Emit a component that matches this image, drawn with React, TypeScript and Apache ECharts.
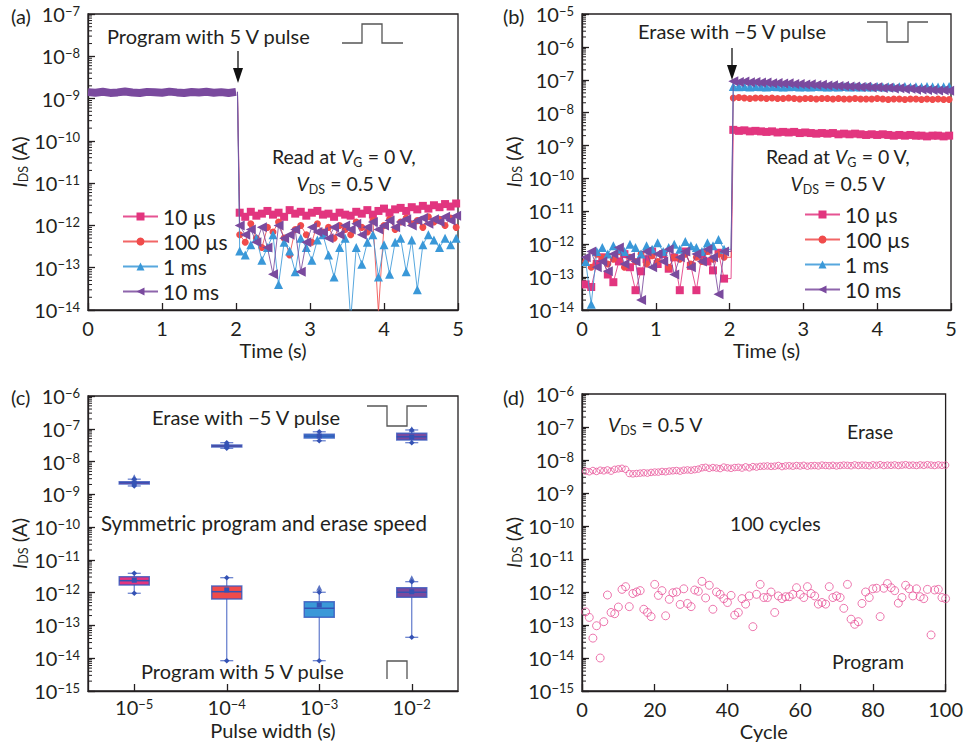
import React, { useEffect, useRef } from 'react';
import * as echarts from 'echarts';

const INK = '#231f20';
const FONT = 'Lato, "Noto Sans", sans-serif';
const COLORS = ['#E2357F', '#F04B4B', '#3A98D8', '#7A4A9E'];
const SYMBOLS = ['rect', 'circle', 'triangle', 'triangle'];
const SYM_SIZE = [8, 7, 9, 10];
const SYM_ROT = [0, 0, 0, 90];
const seriesNames = ['10 µs', '100 µs', '1 ms', '10 ms'];

// ---------- panel (a) ----------
const preTimesA = [0, 0.1, 0.2, 0.3, 0.4, 0.5, 0.6, 0.7, 0.8, 0.9, 1.0, 1.1, 1.2, 1.3, 1.4, 1.5, 1.6, 1.7, 1.8, 1.9, 2.0];
const preBandA = [1.42, 1.38, 1.45, 1.36, 1.40, 1.47, 1.39, 1.35, 1.44, 1.41, 1.37, 1.46, 1.40, 1.36, 1.43, 1.39, 1.45, 1.38, 1.42, 1.36, 1.44]; // x1e-9
const dropTime = 2.02;
const postTimes = [2.05, 2.125, 2.2, 2.275, 2.35, 2.425, 2.5, 2.575, 2.65, 2.725, 2.8, 2.875, 2.95, 3.025, 3.1, 3.175, 3.25, 3.325, 3.4, 3.475, 3.55, 3.625, 3.7, 3.775, 3.85, 3.925, 4.0, 4.075, 4.15, 4.225, 4.3, 4.375, 4.45, 4.525, 4.6, 4.675, 4.75, 4.825, 4.9, 4.975];
const postA_10us = [2.0, 1.6, 2.1, 1.7, 1.9, 2.2, 1.8, 2.0, 1.6, 2.3, 1.9, 2.1, 1.7, 2.0, 2.2, 1.8, 1.9, 1.6, 2.0, 1.8, 1.7, 2.1, 1.9, 2.3, 1.8, 2.2, 2.5, 2.0, 2.4, 2.6, 2.2, 2.7, 2.4, 2.9, 2.5, 3.0, 2.7, 3.2, 2.8, 3.3]; // x1e-12
const postA_100us = [0.6, 0.4, 1.1, 0.5, 0.3, 0.9, 0.7, 1.2, 0.5, 0.2, 0.8, 1.0, 0.6, 0.4, 1.1, 0.7, 0.9, 0.5, 1.0, 0.8, 0.6, 1.2, 0.9, 0.7, 1.3, 0.009, 1.0, 1.4, 0.8, 1.2, 1.5, 1.1, 1.3, 0.9, 1.6, 1.2, 1.4, 1.0, 1.5, 0.9];
const postA_1ms = [0.25, 0.2, 0.35, 0.5, 0.15, 0.3, 0.6, 0.04, 0.4, 0.25, 0.08, 0.5, 0.3, 0.15, 0.45, 0.6, 0.2, 0.06, 0.3, 0.5, 0.006, 0.3, 0.12, 0.4, 0.6, 0.06, 0.35, 0.07, 0.4, 0.5, 0.08, 0.45, 0.03, 0.35, 0.6, 0.45, 0.3, 0.5, 0.35, 0.5];
const postA_10ms = [1.0, 0.6, 0.8, 0.4, 0.9, 0.3, 0.07, 1.0, 0.5, 0.6, 0.8, 0.08, 0.4, 0.9, 0.7, 0.7, 0.5, 0.9, 0.6, 1.0, 0.8, 1.1, 0.6, 0.9, 1.2, 0.8, 1.0, 1.3, 0.9, 1.2, 1.4, 1.0, 1.3, 1.5, 1.1, 1.4, 1.2, 1.6, 1.3, 1.7];

// ---------- panel (b) ----------
const preTimesB = [0.05, 0.125, 0.2, 0.275, 0.35, 0.425, 0.5, 0.575, 0.65, 0.725, 0.8, 0.875, 0.95, 1.025, 1.1, 1.175, 1.25, 1.325, 1.4, 1.475, 1.55, 1.625, 1.7, 1.775, 1.85, 1.925];
const preB_10us = [0.6, 0.5, 2.5, 4, 1.2, 0.7, 3, 5, 2, 0.4, 1.5, 3.5, 6, 2.5, 5, 1.8, 4, 0.4, 6, 2.2, 0.4, 5, 3, 1.6, 5.5, 0.9]; // x1e-13
const preB_100us = [3, 2, 5, 4, 2.5, 3.5, 6, 2, 4, 3, 5, 2.5, 4.5, 3, 5.5, 2, 4, 3.5, 5, 2.5, 4, 3, 6, 3.5, 5, 4];
const preB_1ms = [3, 0.15, 6, 8, 5, 9, 7, 6, 10, 8, 5, 9, 7, 11, 6, 8, 10, 7, 12, 9, 8, 6, 11, 9, 14, 7];
const preB_10ms = [4, 6, 2, 3, 1.5, 5, 8, 2.5, 4, 3, 0.2, 6, 2, 5, 3, 7, 1.2, 4, 6, 2, 5, 3, 7, 4, 0.3, 6];
const postB_10us = [3.0, 2.8, 2.9, 2.7, 2.8, 2.7, 2.6, 2.7, 2.5, 2.6, 2.5, 2.6, 2.4, 2.5, 2.4, 2.3, 2.4, 2.3, 2.4, 2.2, 2.3, 2.2, 2.3, 2.2, 2.1, 2.2, 2.1, 2.2, 2.1, 2.0, 2.1, 2.0, 2.1, 2.0, 2.0, 1.9, 2.0, 2.0, 1.9, 2.0]; // x1e-9
const postB_100us = [2.8, 2.9, 2.8, 2.7, 2.8, 2.8, 2.7, 2.8, 2.7, 2.7, 2.8, 2.7, 2.6, 2.7, 2.7, 2.6, 2.7, 2.7, 2.6, 2.7, 2.6, 2.6, 2.7, 2.6, 2.6, 2.6, 2.7, 2.6, 2.5, 2.6, 2.6, 2.5, 2.6, 2.6, 2.5, 2.6, 2.5, 2.6, 2.5, 2.5]; // x1e-8
const postB_1ms = [6.3, 6.1, 6.2, 6.0, 6.2, 6.1, 6.0, 6.2, 6.1, 6.0, 6.1, 6.2, 6.0, 6.1, 6.0, 6.2, 6.1, 6.0, 6.1, 6.0, 6.2, 6.0, 6.1, 6.0, 6.1, 6.0, 6.2, 6.0, 6.1, 6.0, 6.1, 6.2, 6.0, 6.1, 6.0, 6.2, 6.1, 6.0, 6.1, 6.2]; // x1e-8
const postB_10ms = [9.0, 8.6, 8.8, 8.4, 8.5, 8.2, 8.3, 7.9, 8.0, 7.7, 7.8, 7.4, 7.5, 7.2, 7.3, 6.9, 7.0, 6.7, 6.8, 6.5, 6.5, 6.2, 6.3, 6.0, 6.1, 5.8, 5.9, 5.6, 5.7, 5.4, 5.5, 5.2, 5.3, 5.0, 5.1, 4.9, 4.9, 4.7, 4.8, 4.6]; // x1e-8

// ---------- panel (c) ----------
const pulseCats = ['1e-5', '1e-4', '1e-3', '1e-2'];
const BOX_COLORS = ['#E2357F', '#F04B4B', '#3A98D8', '#7A4A9E'];
const progMin = [9.6e-13, 8.4e-15, 8.4e-15, 4.35e-14];
const progQ1 = [1.71e-12, 6.4e-13, 1.77e-13, 7.2e-13];
const progMed = [2.32e-12, 1.07e-12, 3.34e-13, 1.03e-12];
const progQ3 = [3.07e-12, 1.6e-12, 5.3e-13, 1.42e-12];
const progMax = [3.9e-12, 2.86e-12, 1.03e-12, 2.16e-12];
const progMean = [2.4e-12, 1.21e-12, 4.2e-13, 1.07e-12];
const progOutCat = [2, 3];
const progOutVal = [1.42e-12, 2.75e-12];
const eraseMin = [1.8e-9, 2.54e-8, 4.3e-8, 3.76e-8];
const eraseQ1 = [2.07e-9, 2.78e-8, 5.2e-8, 4.55e-8];
const eraseMed = [2.26e-9, 2.98e-8, 6.0e-8, 5.7e-8];
const eraseQ3 = [2.43e-9, 3.2e-8, 6.8e-8, 7.3e-8];
const eraseMax = [2.9e-9, 3.76e-8, 8.1e-8, 9.2e-8];
const eraseMean = [2.2e-9, 3.0e-8, 6.0e-8, 5.6e-8];
const eraseOutCat = [0, 3];
const eraseOutVal = [3.3e-9, 9.7e-8];

// ---------- panel (d) ----------
const eraseCycle = [4.6, 4.4, 4.8, 4.5, 4.9, 4.7, 5.0, 4.6, 5.2, 5.4, 5.6, 5.2, 3.9, 3.8, 3.9, 4.0, 4.1, 4.0, 4.2, 4.3, 4.3, 4.5, 4.4, 4.6, 4.7, 4.8, 4.6, 4.9, 5.0, 4.9, 5.1, 5.3, 5.8, 6.0, 5.6, 5.9, 5.7, 5.5, 6.1, 5.8, 5.6, 5.9, 6.0, 5.7, 6.2, 5.8, 6.3, 6.1, 6.4, 6.5, 6.6, 6.4, 6.5, 6.8, 6.3, 6.6, 6.7, 6.5, 6.8, 6.6, 6.9, 6.5, 6.7, 6.8, 6.6, 7.0, 6.8, 6.7, 6.9, 6.6, 6.8, 7.0, 6.9, 6.7, 7.1, 6.8, 7.0, 6.9, 6.7, 7.1, 6.9, 7.2, 6.8, 7.0, 6.9, 7.1, 6.8, 7.0, 7.2, 6.9, 7.0, 6.8, 7.1, 6.9, 7.2, 7.0, 6.8, 7.1, 6.9, 7.0]; // x1e-9
const programCycle = [2.5e-13, 1.7e-13, 4e-14, 9.5e-14, 1e-14, 1.26e-13, 8.1e-13, 2.4e-13, 2.2e-13, 3.5e-13, 1.2e-12, 1.45e-12, 3.6e-13, 9e-13, 1e-12, 1.1e-12, 3e-13, 2.4e-13, 1.8e-13, 1.7e-12, 7.9e-13, 1.1e-12, 1.9e-13, 6e-13, 9.5e-13, 1e-12, 4.2e-13, 1.25e-12, 4.5e-13, 3.6e-13, 1.15e-12, 1.05e-12, 2.1e-12, 6.6e-13, 1.6e-12, 3e-13, 1e-12, 8.5e-13, 6.3e-13, 4.8e-13, 7.9e-13, 2e-13, 2.4e-13, 6.3e-13, 4.3e-13, 7.6e-13, 8.9e-14, 8.5e-13, 1.7e-12, 6.8e-13, 6.8e-13, 1e-12, 2.4e-13, 7.6e-13, 6.3e-13, 7.2e-13, 7.2e-13, 8.5e-13, 1.35e-12, 8.5e-13, 6.8e-13, 1.45e-12, 9e-13, 7.6e-13, 4.3e-13, 4.8e-13, 4.3e-13, 1.45e-12, 6.8e-13, 7.6e-13, 6.8e-13, 3.2e-13, 1.7e-12, 1.5e-13, 1.05e-13, 1.26e-13, 4.5e-13, 1e-12, 6.8e-13, 1.25e-12, 1.3e-12, 1.8e-13, 1.3e-12, 1.8e-12, 1.35e-12, 1.1e-12, 4.6e-13, 6.8e-13, 1.6e-12, 1.25e-12, 7.6e-13, 1.25e-12, 7.2e-13, 6.3e-13, 1.2e-12, 5e-14, 1.15e-12, 1.2e-12, 6.8e-13, 6.3e-13];

const MINOR_MANTISSAS = [2, 3, 4, 5, 6, 7, 8, 9];

function minorTicks(loExp: number, hiExp: number) {
  const out: number[][] = [];
  for (let e = loExp; e < hiExp; e++) for (const m of MINOR_MANTISSAS) out.push([0, m * Math.pow(10, e)]);
  return out;
}

const labelRich = {
  b: { fontSize: 20, lineHeight: 20, fontFamily: FONT, color: INK },
  s: { fontSize: 13, lineHeight: 13, fontFamily: FONT, color: INK, verticalAlign: 'top' },
};
const pow10Label = (v: number) => `{b|10}{s|\u2212${Math.abs(Math.round(Math.log10(v)))}}`;

const nameRich = {
  i: { fontStyle: 'italic', fontSize: 20, lineHeight: 23, fontFamily: FONT, color: INK },
  s: { fontSize: 12.5, lineHeight: 12, fontFamily: FONT, color: INK, verticalAlign: 'bottom' },
  n: { fontSize: 20, lineHeight: 23, fontFamily: FONT, color: INK },
};

const axisBase = {
  axisLine: { show: true, lineStyle: { color: INK, width: 1.3 } },
  axisTick: { show: true, inside: true, length: 7, lineStyle: { color: INK, width: 1.3 } },
  splitLine: { show: false },
  nameTextStyle: { fontFamily: FONT, fontSize: 20, lineHeight: 18, color: INK, rich: nameRich },
};

function logY(gi: number, lo: number, hi: number, gap: number) {
  return {
    ...axisBase,
    gridIndex: gi,
    type: 'log',
    logBase: 10,
    min: Math.pow(10, lo),
    max: Math.pow(10, hi),
    splitNumber: hi - lo,
    axisLabel: { formatter: pow10Label, rich: labelRich, margin: 8, color: INK, fontFamily: FONT },
    name: '{i|I}{s|DS}{n| (A)}',
    nameLocation: 'middle',
    nameRotate: 90,
    nameGap: gap,
  };
}

function valX(gi: number, max: number, interval: number, name: string, gap: number) {
  return {
    ...axisBase,
    gridIndex: gi,
    type: 'value',
    min: 0,
    max,
    interval,
    axisLabel: { color: INK, fontFamily: FONT, fontSize: 20, lineHeight: 18, margin: 9 },
    name,
    nameLocation: 'middle',
    nameGap: gap,
  };
}

function lineSeries(k: number, gi: number, data: any[]) {
  return {
    name: seriesNames[k],
    type: 'line',
    xAxisIndex: gi,
    yAxisIndex: gi,
    data,
    symbol: SYMBOLS[k],
    symbolSize: SYM_SIZE[k],
    symbolRotate: SYM_ROT[k],
    itemStyle: { color: COLORS[k] },
    lineStyle: { color: COLORS[k], width: 1, opacity: 0.85 },
    emphasis: { disabled: true },
    z: 3 + k,
  };
}

function minorTickSeries(gi: number, lo: number, hi: number) {
  return {
    type: 'custom',
    xAxisIndex: gi,
    yAxisIndex: gi,
    silent: true,
    data: minorTicks(lo, hi),
    encode: { x: 0, y: 1 },
    renderItem: (params: any, api: any) => {
      const p = api.coord([api.value(0), api.value(1)]);
      const x0 = params.coordSys.x;
      return { type: 'line', shape: { x1: x0, y1: p[1], x2: x0 + 4, y2: p[1] }, style: { stroke: INK, lineWidth: 1 } };
    },
    z: 1,
  };
}

const EDGE = 'rgba(55,88,190,0.8)';
const DARK = '#3452B4';

function boxRender(params: any, api: any) {
  const ci = api.value(0);
  const ys = [1, 2, 3, 4, 5, 6].map((d) => api.coord([ci, api.value(d)])[1]);
  const cx = api.coord([ci, api.value(1)])[0];
  const [yMin, yQ1, yMed, yQ3, yMax, yMean] = ys;
  const fill = BOX_COLORS[api.value(7)];
  const hw = 15;
  const cw = 6.5;
  const d = 2.8;
  const diamond = (y: number) => ({ type: 'polygon', shape: { points: [[cx, y - d], [cx + d, y], [cx, y + d], [cx - d, y]] }, style: { fill: DARK } });
  return {
    type: 'group',
    children: [
      { type: 'line', shape: { x1: cx, y1: yMax, x2: cx, y2: yMin }, style: { stroke: EDGE, lineWidth: 1.2 } },
      { type: 'line', shape: { x1: cx - cw, y1: yMax, x2: cx + cw, y2: yMax }, style: { stroke: EDGE, lineWidth: 1.2 } },
      { type: 'line', shape: { x1: cx - cw, y1: yMin, x2: cx + cw, y2: yMin }, style: { stroke: EDGE, lineWidth: 1.2 } },
      { type: 'rect', shape: { x: cx - hw, y: yQ3, width: hw * 2, height: Math.max(yQ1 - yQ3, 1.5) }, style: { fill, stroke: EDGE, lineWidth: 1.5 } },
      { type: 'line', shape: { x1: cx - hw, y1: yMed, x2: cx + hw, y2: yMed }, style: { stroke: DARK, lineWidth: 1.5 } },
      { type: 'rect', shape: { x: cx - 2.5, y: yMean - 2.5, width: 5, height: 5 }, style: { fill: DARK } },
      diamond(yMax),
      diamond(yMin),
    ],
  };
}

function buildOption() {
  const postA = [postA_10us, postA_100us, postA_1ms, postA_10ms];
  const scalesA = [1e-12, 1e-12, 1e-12, 1e-12];
  const preB = [preB_10us, preB_100us, preB_1ms, preB_10ms];
  const postB = [postB_10us, postB_100us, postB_1ms, postB_10ms];
  const scalesPostB = [1e-9, 1e-8, 1e-8, 1e-8];

  const seriesA = postA.map((arr, k) =>
    lineSeries(k, 0, [
      { value: [dropTime, preBandA[preBandA.length - 1] * 1e-9], symbol: 'none' },
      ...postTimes.map((t, i) => [t, arr[i] * scalesA[k]]),
    ])
  );
  const seriesB = preB.map((arr, k) =>
    lineSeries(k, 1, [
      ...preTimesB.map((t, i) => [t, arr[i] * 1e-13]),
      { value: [dropTime, arr[arr.length - 1] * 1e-13], symbol: 'none' },
      ...postTimes.map((t, i) => [t, postB[k][i] * scalesPostB[k]]),
    ])
  );

  const progBoxes = pulseCats.map((_, i) => [i, progMin[i], progQ1[i], progMed[i], progQ3[i], progMax[i], progMean[i], i]);
  const eraseBoxes = pulseCats.map((_, i) => [i, eraseMin[i], eraseQ1[i], eraseMed[i], eraseQ3[i], eraseMax[i], eraseMean[i], i]);

  const textStyleRich = {
    i: { fontStyle: 'italic', fontSize: 19.5, fontFamily: FONT, fill: INK, lineHeight: 25 },
    s: { fontSize: 12.5, fontFamily: FONT, fill: INK, lineHeight: 12, verticalAlign: 'bottom' },
  };
  const txt = (x: number, y: number, text: string, align = 'left', size = 20) => ({
    type: 'text',
    x,
    y,
    z: 100,
    style: { text, fill: INK, fontFamily: FONT, fontSize: size, lineHeight: 25, align, verticalAlign: 'middle', rich: textStyleRich },
  });
  const pulse = (pts: number[][]) => ({ type: 'polyline', z: 100, shape: { points: pts }, style: { stroke: '#555', lineWidth: 1.3, fill: null } });
  const arrow = (x: number, y0: number, y1: number) => [
    { type: 'line', z: 100, shape: { x1: x, y1: y0, x2: x, y2: y1 - 12 }, style: { stroke: '#111', lineWidth: 1.3 } },
    { type: 'polygon', z: 100, shape: { points: [[x - 5, y1 - 15], [x + 5, y1 - 15], [x, y1]] }, style: { fill: '#111' } },
  ];

  const legendBase = {
    data: seriesNames,
    orient: 'vertical',
    itemWidth: 35,
    itemHeight: 10,
    itemGap: 4,
    textStyle: { fontFamily: FONT, fontSize: 21, color: INK, lineHeight: 20 },
    selectedMode: false,
  };

  return {
    animation: false,
    backgroundColor: '#fff',
    textStyle: { fontFamily: FONT },
    grid: [
      { left: 88, top: 14, width: 370, height: 296 },
      { left: 582, top: 14, width: 369, height: 296 },
      { left: 88, top: 396, width: 370, height: 295 },
      { left: 582, top: 394, width: 369, height: 297 },
    ].map((g) => ({ ...g, show: true, borderColor: INK, borderWidth: 1.3, backgroundColor: 'transparent' })),
    xAxis: [
      valX(0, 5, 1, 'Time (s)', 31),
      valX(1, 5, 1, 'Time (s)', 31),
      {
        ...axisBase,
        gridIndex: 2,
        type: 'category',
        data: pulseCats,
        boundaryGap: true,
        axisTick: { ...axisBase.axisTick, alignWithLabel: true },
        axisLabel: {
          formatter: (v: string) => `{b|10}{s|\u2212${v.split('-')[1]}}`,
          rich: labelRich,
          margin: 6,
        },
        name: 'Pulse width (s)',
        nameLocation: 'middle',
        nameGap: 30,
      },
      valX(3, 100, 20, 'Cycle', 31),
    ],
    yAxis: [logY(0, -14, -7, 50), logY(1, -14, -5, 55), logY(2, -15, -6, 50), logY(3, -15, -6, 55)],
    legend: [
      { ...legendBase, left: 117, top: 201 },
      { ...legendBase, left: 799, top: 199 },
    ],
    series: [
      minorTickSeries(0, -14, -7),
      minorTickSeries(1, -14, -5),
      minorTickSeries(2, -15, -6),
      minorTickSeries(3, -15, -6),
      {
        type: 'line',
        xAxisIndex: 0,
        yAxisIndex: 0,
        data: preTimesA.map((t, i) => [t, preBandA[i] * 1e-9]),
        symbol: 'none',
        lineStyle: { color: COLORS[3], width: 8 },
        emphasis: { disabled: true },
        z: 2,
      },
      ...seriesA,
      ...seriesB,
      {
        type: 'custom',
        xAxisIndex: 2,
        yAxisIndex: 2,
        data: [...progBoxes, ...eraseBoxes],
        encode: { x: 0, y: [1, 2, 3, 4, 5, 6] },
        renderItem: boxRender,
        z: 3,
      },
      {
        type: 'scatter',
        xAxisIndex: 2,
        yAxisIndex: 2,
        symbol: 'triangle',
        symbolSize: 6,
        itemStyle: { color: DARK },
        data: [
          ...progOutCat.map((c, i) => [c, progOutVal[i]]),
          ...eraseOutCat.map((c, i) => [c, eraseOutVal[i]]),
        ],
        z: 4,
      },
      {
        type: 'scatter',
        xAxisIndex: 3,
        yAxisIndex: 3,
        symbol: 'circle',
        symbolSize: 6.5,
        itemStyle: { color: 'rgba(255,255,255,0)', borderColor: '#E8559A', borderWidth: 1 },
        data: eraseCycle.map((v, i) => [i + 1, v * 1e-9]),
      },
      {
        type: 'scatter',
        xAxisIndex: 3,
        yAxisIndex: 3,
        symbol: 'circle',
        symbolSize: 8,
        itemStyle: { color: 'rgba(255,255,255,0)', borderColor: '#E8559A', borderWidth: 1 },
        data: programCycle.map((v, i) => [i + 1, v]),
      },
    ],
    graphic: [
      txt(11, 16, '(a)', 'left', 20),
      txt(503, 16, '(b)', 'left', 20),
      txt(11, 397, '(c)', 'left', 20),
      txt(503, 397, '(d)', 'left', 20),
      txt(107, 36, 'Program with 5 V pulse'),
      pulse([[342, 43], [362, 43], [362, 24], [382, 24], [382, 43], [403, 43]]),
      ...arrow(238, 51, 83),
      txt(344, 156, 'Read at {i|V}{s|G} = 0 V,', 'center', 19.5),
      txt(344, 183, '{i|V}{s|DS} = 0.5 V', 'center', 19.5),
      txt(638, 31, 'Erase with \u22125 V pulse'),
      pulse([[867, 22], [887, 22], [887, 42], [908, 42], [908, 22], [928, 22]]),
      ...arrow(732, 48, 80),
      txt(838, 156, 'Read at {i|V}{s|G} = 0 V,', 'center', 19.5),
      txt(838, 183, '{i|V}{s|DS} = 0.5 V', 'center', 19.5),
      txt(152, 417, 'Erase with \u22125 V pulse'),
      pulse([[367, 406], [387, 406], [387, 426], [407, 426], [407, 406], [427, 406]]),
      txt(101, 523, 'Symmetric program and erase speed', 'left', 20.5),
      txt(141, 671, 'Program with 5 V pulse'),
      pulse([[387, 679], [387, 661], [407, 661], [407, 679]]),
      txt(608, 424, '{i|V}{s|DS} = 0.5 V', 'left', 19.5),
      txt(847, 431, 'Erase', 'left', 19.5),
      txt(730, 523, '100 cycles', 'left', 19.5),
      txt(832, 661, 'Program', 'left', 19.5),
    ],
  };
}

export default function App() {
  const ref = useRef<HTMLDivElement>(null);
  useEffect(() => {
    const chart = echarts.init(ref.current as HTMLDivElement, null, { renderer: 'svg' });
    chart.setOption(buildOption() as any);
    return () => chart.dispose();
  }, []);
  return <div ref={ref} style={{ position: 'fixed', left: 0, top: 0, width: 966, height: 743, background: '#fff' }} />;
}
